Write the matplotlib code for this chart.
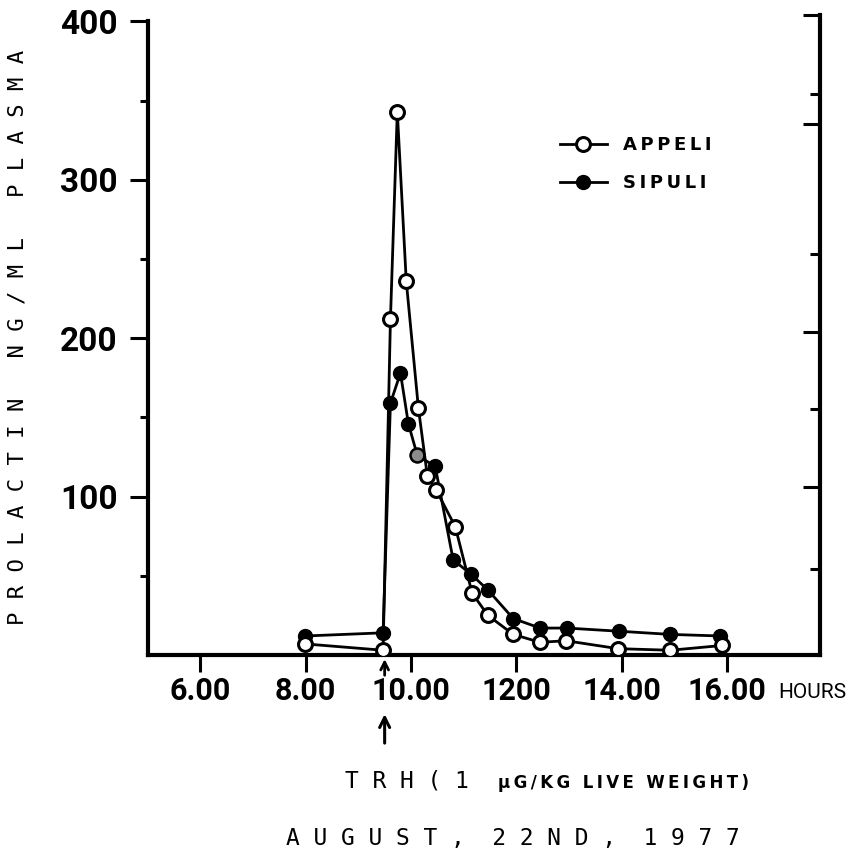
import matplotlib
matplotlib.use('Agg')
import matplotlib.pyplot as plt

# time of sampling (hours, decimal) and prolactin ng/ml
appeli_t = [7.99, 9.47, 9.61, 9.74, 9.91, 10.14, 10.31, 10.48, 10.84, 11.16,
            11.46, 11.94, 12.45, 12.94, 13.93, 14.92, 15.90]
appeli_v = [7, 3, 212, 343, 236, 156, 113, 104, 81, 39, 25, 13, 8, 9, 4, 3, 6]

sipuli_t = [7.99, 9.47, 9.61, 9.80, 9.95, 10.12, 10.46, 10.80, 11.14, 11.46,
            11.94, 12.45, 12.96, 13.95, 14.92, 15.87]
sipuli_v = [12, 14, 159, 178, 146, 126, 119, 60, 51, 41, 23, 17, 17, 15, 13, 12]
grey_point = 5  # the half-tone dot in the scan

x_ticks = [6, 8, 10, 12, 14, 16]
x_ticklabels = ['6.00', '8.00', '10.00', '1200', '14.00', '16.00']
y_ticks = [100, 200, 300, 400]
y_minor = [50, 150, 250, 350]
right_major = [106, 204, 335, 404]
right_minor = [54, 155, 253, 354]
trh_time = 9.5

narrow = ['Roboto', 'DejaVu Sans']
mono = 'DejaVu Sans Mono'

fig = plt.figure(figsize=(8.55, 8.61), dpi=100)
ax = fig.add_axes([148/855, 206/861, 672/855, 640/861])

sip, = ax.plot(sipuli_t, sipuli_v, '-o', color='black', lw=2.0, ms=10,
               mfc='black', mec='black', label='S\u2009I\u2009P\u2009U\u2009L\u2009I', zorder=3)
ax.plot(sipuli_t[grey_point], sipuli_v[grey_point], 'o', ms=10, mfc='0.55',
        mec='black', mew=1.8, zorder=4)
app, = ax.plot(appeli_t, appeli_v, '-o', color='black', lw=2.0, ms=10,
               mfc='white', mec='black', mew=2.2, label='A\u2009P\u2009P\u2009E\u2009L\u2009I', zorder=5)

ax.set_xlim(5.01, 17.76)
ax.set_ylim(0, 404)

ax.spines['top'].set_visible(False)
ax.spines['right'].set_visible(False)
ax.spines['left'].set_bounds(0, 400)
for s in ['left', 'bottom']:
    ax.spines[s].set_linewidth(3)
    ax.spines[s].set_capstyle('projecting')

ax.set_yticks(y_ticks)
ax.set_yticklabels([str(v) for v in y_ticks], family=narrow, weight='bold', size=24)
ax.set_yticks(y_minor, minor=True)
ax.tick_params(axis='y', which='major', direction='out', length=13, width=2.2, pad=9)
ax.tick_params(axis='y', which='minor', direction='out', length=6, width=2.2)

ax.set_xticks(x_ticks)
ax.set_xticklabels(x_ticklabels, family=narrow, weight='bold', size=22)
ax.tick_params(axis='x', which='major', direction='out', length=12, width=2.2, pad=3)

# right hand scale, ticks pointing in
sec = ax.secondary_yaxis('right')
sec.spines['right'].set_linewidth(3)
sec.spines['right'].set_capstyle('projecting')
sec.set_yticks(right_major)
sec.set_yticks(right_minor, minor=True)
sec.set_yticklabels([])
sec.tick_params(which='major', direction='in', length=12, width=2.2)
sec.tick_params(which='minor', direction='in', length=7, width=2.2)

ax.text(17.62, -0.058, 'HOURS', transform=ax.get_xaxis_transform(), ha='center',
        va='center', family=narrow, size=15)

# TRH arrows under the axis
xt = ax.get_xaxis_transform()
ax.annotate('', xy=(trh_time, -0.002), xytext=(trh_time, -0.036), xycoords=xt,
            textcoords=xt, annotation_clip=False,
            arrowprops=dict(arrowstyle='->', lw=2.0, color='black', mutation_scale=14),
            zorder=6)
ax.annotate('', xy=(trh_time, -0.088), xytext=(trh_time, -0.142), xycoords=xt,
            textcoords=xt, annotation_clip=False,
            arrowprops=dict(arrowstyle='->', lw=2.2, color='black', mutation_scale=18))

leg = ax.legend(handles=[app, sip], loc='center left', bbox_to_anchor=(0.613, 0.767),
                frameon=False, borderpad=0, borderaxespad=0, handlelength=2.6,
                handletextpad=0.9, labelspacing=1.1,
                prop={'family': 'DejaVu Sans', 'weight': 'bold', 'size': 13})

fig.text(0.021, 0.608, 'P R O L A C T I N   N G / M L   P L A S M A', rotation=90,
         ha='center', va='center', family=mono, size=16)

fig.text(345/855, 1 - 781/861, 'T R H ( 1', ha='left', va='center', family=mono, size=16.5)
fig.text(498/855, 1 - 783/861, '\u2009'.join('µG/KG LIVE WEIGHT)'), ha='left', va='center',
         family='DejaVu Sans', weight='bold', size=12)
fig.text(513/855, 1 - 838/861, 'A U G U S T ,  2 2 N D ,  1 9 7 7', ha='center',
         va='center', family=mono, size=16.5)

fig.savefig('out.png', dpi=100)
